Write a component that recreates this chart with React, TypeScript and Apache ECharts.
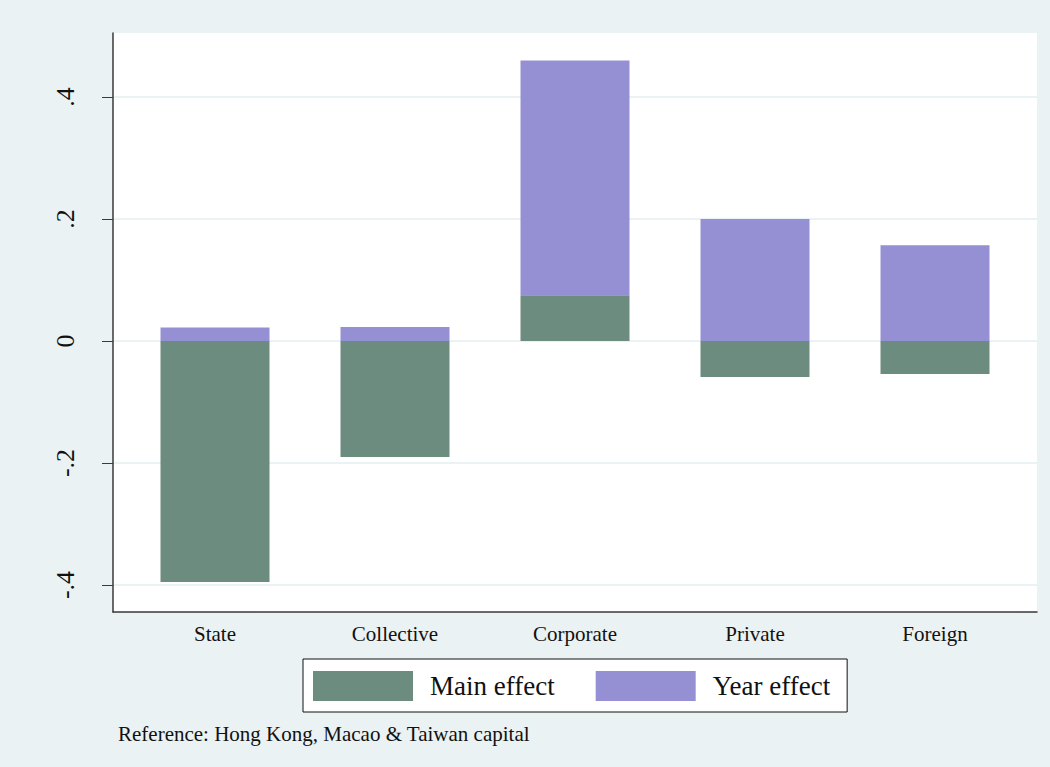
import React, { useEffect, useRef } from "react";
import * as echarts from "echarts";

// Category order along the horizontal axis
const categories = ["State", "Collective", "Corporate", "Private", "Foreign"];
// Effect estimates per ownership type
const mainEffect = [-0.395, -0.19, 0.075, -0.059, -0.054];
const yearEffect = [0.022, 0.023, 0.385, 0.2, 0.157];
// Vertical axis ticks and their labels
const yTicks = [-0.4, -0.2, 0, 0.2, 0.4];
const yTickLabels = ["-.4", "-.2", "0", ".2", ".4"];
const seriesNames = ["Main effect", "Year effect"];
const noteText = "Reference: Hong Kong, Macao & Taiwan capital";

const Y_MIN = -0.4443;
const Y_MAX = 0.5049;
const FONT = "'Liberation Serif', 'Times New Roman', serif";
const AXIS_COLOR = "#3a3a3a";
const GRID_LINE = "#EAF2F3";
const GREEN = "#6C8C7F";
const PURPLE = "#958FD3";

export default function App() {
  const ref = useRef<HTMLDivElement>(null);

  useEffect(() => {
    if (!ref.current) return;
    const chart = echarts.init(ref.current, undefined, { renderer: "svg" });

    const labelFor = (v: number) => {
      const i = yTicks.findIndex((t) => Math.abs(t - v) < 1e-6);
      return i >= 0 ? yTickLabels[i] : "";
    };

    chart.setOption({
      animation: false,
      backgroundColor: "#EAF2F3",
      textStyle: { fontFamily: FONT },
      title: {
        text: noteText,
        left: 113,
        top: 718,
        textStyle: { fontFamily: FONT, fontSize: 21, fontWeight: "normal", color: "#111" },
      },
      legend: {
        data: seriesNames,
        left: 303,
        top: 659,
        orient: "horizontal",
        icon: "rect",
        itemWidth: 100,
        itemHeight: 30,
        itemGap: 41,
        padding: [12, 17, 11, 10],
        backgroundColor: "#ffffff",
        borderColor: "#111",
        borderWidth: 1,
        selectedMode: false,
        formatter: (name: string) => `{t|${name}}`,
        textStyle: {
          rich: {
            t: {
              fontFamily: FONT,
              fontSize: 27,
              color: "#111",
              padding: [0, 0, 0, 12],
              lineHeight: 30,
            },
          },
        },
      },
      grid: [
        // frame: white plotting region with the value axis and grid lines
        {
          left: 113,
          right: 13,
          top: 33,
          bottom: 155,
          show: true,
          backgroundColor: "#ffffff",
          borderWidth: 0,
        },
        // bars: inset horizontally so categories keep their spacing
        { left: 125, right: 25, top: 33, bottom: 155 },
      ],
      xAxis: [
        {
          type: "value",
          gridIndex: 0,
          min: 0,
          max: 1,
          axisLine: { show: true, onZero: false, lineStyle: { color: AXIS_COLOR, width: 1.5 } },
          axisTick: { show: false },
          axisLabel: { show: false },
          splitLine: { show: false },
        },
        {
          type: "category",
          gridIndex: 1,
          data: categories,
          axisLine: { show: false, onZero: false },
          axisTick: { show: false },
          axisLabel: {
            margin: 11,
            fontFamily: FONT,
            fontSize: 21,
            color: "#111",
          },
          splitLine: { show: false },
        },
      ],
      yAxis: [
        {
          type: "value",
          gridIndex: 0,
          min: Y_MIN,
          max: Y_MAX,
          axisLine: { show: true, onZero: false, lineStyle: { color: AXIS_COLOR, width: 1.5 } },
          axisTick: {
            show: true,
            length: 11,
            customValues: yTicks,
            lineStyle: { color: AXIS_COLOR, width: 1 },
          },
          axisLabel: {
            customValues: yTicks,
            rotate: 90,
            margin: 35,
            fontFamily: FONT,
            fontSize: 26,
            color: "#111",
            formatter: (v: number) => labelFor(v),
          },
          splitLine: { show: true, lineStyle: { color: GRID_LINE, width: 2 } },
        },
        {
          type: "value",
          gridIndex: 1,
          min: Y_MIN,
          max: Y_MAX,
          show: false,
          splitLine: { show: false },
        },
      ],
      series: [
        {
          name: seriesNames[0],
          type: "bar",
          xAxisIndex: 1,
          yAxisIndex: 1,
          stack: "effect",
          barWidth: 109,
          itemStyle: { color: GREEN },
          data: mainEffect,
        },
        {
          name: seriesNames[1],
          type: "bar",
          xAxisIndex: 1,
          yAxisIndex: 1,
          stack: "effect",
          barWidth: 109,
          itemStyle: { color: PURPLE },
          data: yearEffect,
        },
      ],
    });

    return () => chart.dispose();
  }, []);

  return (
    <div
      ref={ref}
      style={{ position: "absolute", left: 0, top: 0, width: 1050, height: 767 }}
    />
  );
}
